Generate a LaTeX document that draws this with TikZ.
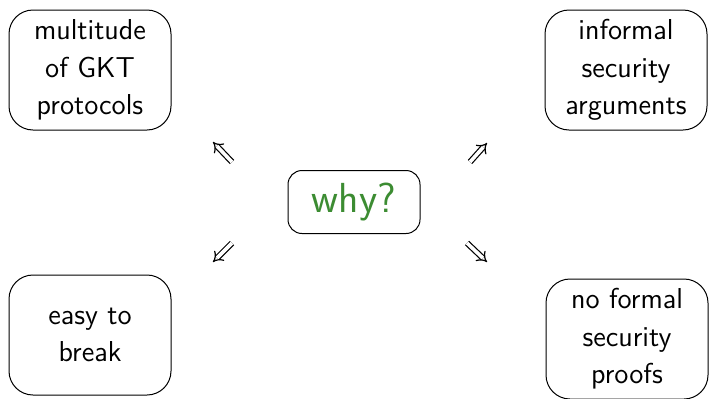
\documentclass[tikz,border=0pt]{standalone}
\usepackage{tikz}
\usetikzlibrary{arrows.meta}

\definecolor{whygreen}{RGB}{60,140,50}

\begin{document}
\begin{tikzpicture}[x=.5pt,y=.5pt,font=\sffamily\fontsize{14.4}{18.8}\selectfont,
  reason/.style={draw,rounded corners=12pt,line width=.5pt,align=center,
    minimum width=81pt,minimum height=60pt,inner sep=2pt},
  question/.style={draw,rounded corners=7pt,line width=.5pt,text=whygreen,
    minimum width=66pt,minimum height=31.5pt,font=\sffamily\fontsize{21}{25}\selectfont},
  impl/.style={double,double distance=1.8pt,line width=.6pt,-{Implies}}]
  \useasboundingbox (0,0) rectangle (711,398);
  \node[question] (why) at (354,196) {why?};
  \node[reason] (multi) at (90,328) {multitude\\of GKT\\protocols};
  \node[reason] (informal) at (626,328) {informal\\security\\arguments};
  \node[reason] (easy) at (90,63) {easy to\\break};
  \node[reason] (noproof) at (627,59) {no formal\\security\\proofs};
  \coordinate (nwa) at (232,236); \coordinate (nwb) at (213,256);
  \coordinate (nea) at (470,236); \coordinate (neb) at (487,255);
  \coordinate (swa) at (232,155); \coordinate (swb) at (213,136);
  \coordinate (sea) at (467,155); \coordinate (seb) at (487,136);
  \draw[impl] (nwa) -- (nwb);
  \draw[impl] (nea) -- (neb);
  \draw[impl] (swa) -- (swb);
  \draw[impl] (sea) -- (seb);
\end{tikzpicture}
\end{document}
